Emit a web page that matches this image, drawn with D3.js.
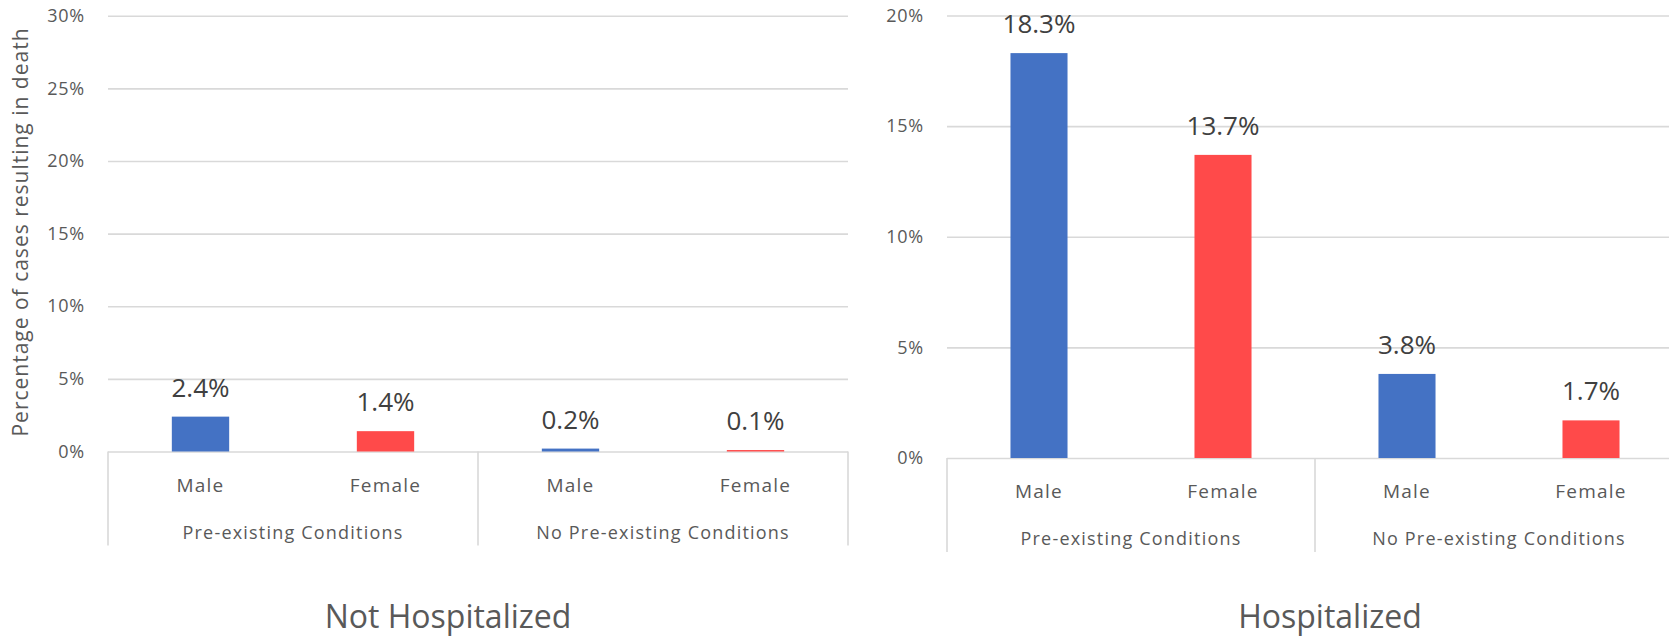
<!DOCTYPE html>
<html lang="en">
  <head>
    <meta charset="UTF-8" />
    <title>Deaths by hospitalization</title>
  </head>
  <style>
    body { margin: 0; background: #fff; }
    #chart { display: block; }
    text { font-family: "Open Sans", "Noto Sans", sans-serif; }
  </style>
  <body>
    <svg id="chart" width="1669" height="641"></svg>

    <script src="https://d3js.org/d3.v7.min.js"></script>
    <script>
      // data
      const categories = ["Male", "Female", "Male", "Female"];
      const groups = ["Pre-existing Conditions", "No Pre-existing Conditions"];
      const notHospitalized = [2.4, 1.4, 0.2, 0.1];
      const hospitalized = [18.3, 13.7, 3.8, 1.7];
      const leftTicks = [0, 5, 10, 15, 20, 25, 30];
      const rightTicks = [0, 5, 10, 15, 20];
      const colors = { Male: "#4472C4", Female: "#FF4A4A" };

      const svg = d3.select("#chart");

      function drawPanel(opts) {
        const { values, ticks, x0, x1, yTop, yBottom, title, titleX } = opts;
        const g = svg.append("g");

        const x = d3.scaleBand()
          .domain(d3.range(values.length))
          .range([x0, x1])
          .paddingInner(0.69)
          .paddingOuter(0.345);

        const y = d3.scaleLinear()
          .domain([0, d3.max(ticks)])
          .range([yBottom, yTop]);

        // gridlines + tick labels
        const axis = g.append("g")
          .attr("transform", `translate(${x0},0)`)
          .call(d3.axisLeft(y)
            .tickValues(ticks)
            .tickSize(-(x1 - x0))
            .tickPadding(23)
            .tickFormat(d => d + "%"));
        axis.select(".domain").remove();
        axis.selectAll(".tick line")
          .attr("stroke", "#d9d9d9")
          .attr("stroke-width", 1.6);
        axis.selectAll(".tick text")
          .attr("fill", "#595959")
          .attr("font-size", 18)
          .attr("letter-spacing", "0.8px")
          .attr("font-family", "'Open Sans', sans-serif");

        // bars
        g.selectAll("rect.bar")
          .data(values)
          .join("rect")
          .attr("class", "bar")
          .attr("x", (d, i) => x(i))
          .attr("width", x.bandwidth())
          .attr("y", d => y(d))
          .attr("height", d => y(0) - y(d))
          .attr("fill", (d, i) => colors[categories[i]]);

        // data labels
        g.selectAll("text.val")
          .data(values)
          .join("text")
          .attr("class", "val")
          .attr("x", (d, i) => x(i) + x.bandwidth() / 2)
          .attr("y", d => y(d) - 20)
          .attr("text-anchor", "middle")
          .attr("font-size", 26)
          .attr("fill", "#404040")
          .text(d => d.toFixed(1) + "%");

        // category labels
        g.selectAll("text.cat")
          .data(categories)
          .join("text")
          .attr("class", "cat")
          .attr("x", (d, i) => x(i) + x.bandwidth() / 2)
          .attr("y", yBottom + 40)
          .attr("text-anchor", "middle")
          .attr("font-size", 19)
          .attr("letter-spacing", "1.2px")
          .attr("fill", "#595959")
          .text(d => d);

        // group labels and separators
        const step = x.step();
        const bounds = [x0, x0 + 2 * step, x0 + 4 * step];
        g.selectAll("line.sep")
          .data(bounds)
          .join("line")
          .attr("class", "sep")
          .attr("x1", d => d).attr("x2", d => d)
          .attr("y1", yBottom).attr("y2", yBottom + 94)
          .attr("stroke", "#d9d9d9")
          .attr("stroke-width", 1.6);

        g.selectAll("text.grp")
          .data(groups)
          .join("text")
          .attr("class", "grp")
          .attr("x", (d, i) => (bounds[i] + bounds[i + 1]) / 2)
          .attr("y", yBottom + 87)
          .attr("text-anchor", "middle")
          .attr("font-size", 18)
          .attr("letter-spacing", "1.2px")
          .attr("fill", "#595959")
          .text(d => d);

        // panel title
        g.append("text")
          .attr("x", titleX)
          .attr("y", 628)
          .attr("text-anchor", "middle")
          .attr("font-size", 32)
          .attr("fill", "#595959")
          .text(title);
      }

      drawPanel({
        values: notHospitalized, ticks: leftTicks,
        x0: 108, x1: 848, yTop: 15.7, yBottom: 451.5,
        title: "Not Hospitalized", titleX: 448
      });

      drawPanel({
        values: hospitalized, ticks: rightTicks,
        x0: 947, x1: 1683, yTop: 15.5, yBottom: 458,
        title: "Hospitalized", titleX: 1330
      });

      // y axis title
      svg.append("text")
        .attr("transform", "translate(28,232) rotate(-90)")
        .attr("text-anchor", "middle")
        .attr("font-size", 21)
        .attr("letter-spacing", "1px")
        .attr("fill", "#595959")
        .text("Percentage of cases resulting in death");
    </script>
  </body>
</html>
